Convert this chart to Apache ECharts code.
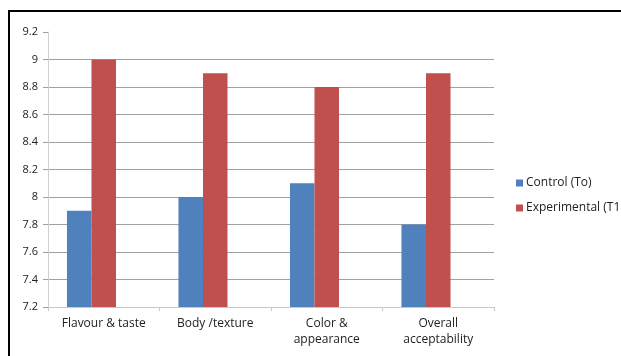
<!DOCTYPE html>
<html>
<head>
<meta charset="utf-8">
<script src="https://cdn.jsdelivr.net/npm/echarts@6/dist/echarts.min.js"></script>
<style>
  html, body { margin: 0; padding: 0; background: #fff; }
  #chart { width: 621px; height: 356px; }
</style>
</head>
<body>
<div id="chart"></div>
<script>
// Sensory scores per attribute
const categories = ['Flavour & taste', 'Body /texture', 'Color &\nappearance', 'Overall\nacceptability'];
const controlScores = [7.9, 8.0, 8.1, 7.8];
const experimentalScores = [9.0, 8.9, 8.8, 8.9];
// third treatment slot, left empty
const emptyScores = [null, null, null, null];
const seriesNames = ['Control (To)', 'Experimental (T1', 'T2'];

const FONT = '"Open Sans", "Liberation Sans", sans-serif';

// one colour per horizontal rule, 7.2 .. 9.2 (top rule hidden)
const gridColors = ['transparent', '#a0a0a0', '#a0a0a0', '#a0a0a0', '#a0a0a0', '#a0a0a0',
  '#a0a0a0', '#a0a0a0', '#a0a0a0', '#a0a0a0', 'transparent'];

const chart = echarts.init(document.getElementById('chart'), null, { renderer: 'canvas' });
chart.setOption({
  animation: false,
  backgroundColor: '#fff',
  grid: { left: 48, right: 127, top: 32, bottom: 49 },
  legend: {
    orient: 'vertical',
    left: 511,
    top: 172,
    itemWidth: 7,
    itemHeight: 7,
    itemGap: 13,
    icon: 'rect',
    textStyle: { fontFamily: FONT, fontSize: 12, color: '#222', padding: [0, 0, 0, -2] },
    data: seriesNames.slice(0, 2)
  },
  xAxis: {
    type: 'category',
    data: categories,
    axisLine: { lineStyle: { color: '#c8c8c8', width: 1 } },
    axisTick: { show: true, length: 4, lineStyle: { color: '#c8c8c8' } },
    axisLabel: { fontFamily: FONT, fontSize: 12, color: '#222', margin: 9, lineHeight: 16 },
    splitLine: { show: false }
  },
  yAxis: {
    type: 'value',
    min: 7.2,
    max: 9.2,
    interval: 0.2,
    axisLine: { show: true, lineStyle: { color: '#d0d0d0', width: 1 } },
    axisTick: { show: true, length: 5, lineStyle: { color: '#a0a0a0' } },
    axisLabel: {
      fontFamily: FONT, fontSize: 11, color: '#222', margin: 10,
      formatter: v => String(Math.round(v * 10) / 10)
    },
    splitLine: { show: true, lineStyle: { color: gridColors, width: 1 } }
  },
  series: [
    {
      name: seriesNames[0],
      type: 'bar',
      data: controlScores,
      itemStyle: { color: '#4f81bd' },
      barGap: '0%',
      barCategoryGap: '34%'
    },
    {
      name: seriesNames[1],
      type: 'bar',
      data: experimentalScores,
      itemStyle: { color: '#c0504d' },
      barGap: '0%',
      barCategoryGap: '34%'
    },
    {
      name: seriesNames[2],
      type: 'bar',
      data: emptyScores,
      itemStyle: { color: '#9bbb59' },
      barGap: '0%',
      barCategoryGap: '34%'
    }
  ],
  graphic: [
    // frame lines along the top and left edges
    { type: 'line', shape: { x1: 8, y1: 11, x2: 621, y2: 11 }, style: { stroke: '#000', lineWidth: 2 } },
    { type: 'line', shape: { x1: 9, y1: 10, x2: 9, y2: 356 }, style: { stroke: '#000', lineWidth: 2 } }
  ]
});
</script>
</body>
</html>
